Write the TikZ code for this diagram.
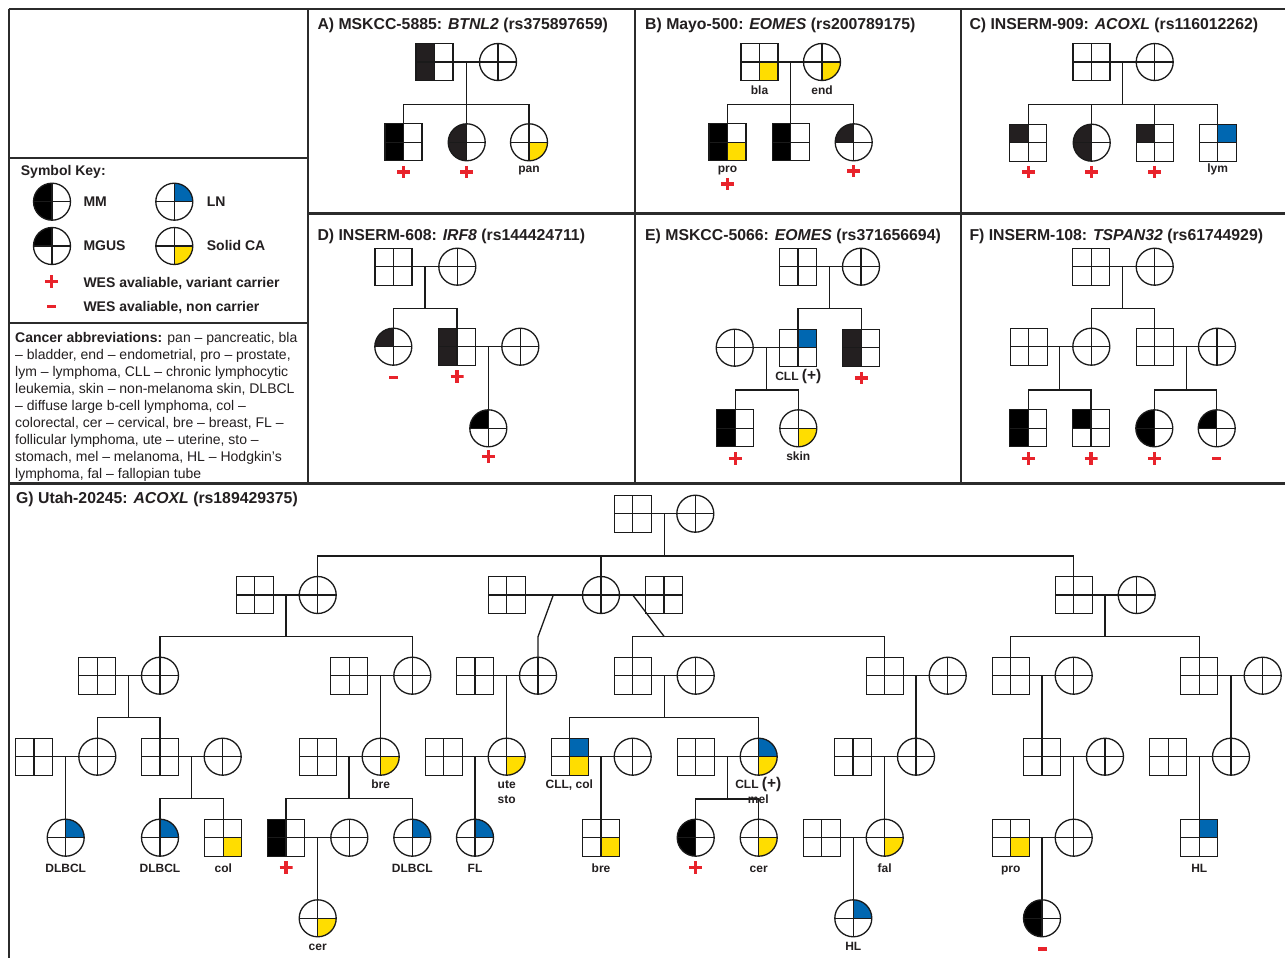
\documentclass[tikz,border=0pt]{standalone}
\usepackage{fontspec}
\setmainfont{Liberation Sans}
\definecolor{blk}{HTML}{000000}
\definecolor{dk}{HTML}{231F20}
\definecolor{blu}{HTML}{0067B1}
\definecolor{yel}{HTML}{FFDD00}
\definecolor{wesred}{HTML}{E8232B}
\definecolor{lc}{HTML}{1A1A1A}
\definecolor{tc}{HTML}{231F20}
\definecolor{fr}{HTML}{2B2B2B}
\newcommand{\quads}[4]{%
 \fill[#1] (path picture bounding box.center) rectangle (path picture bounding box.north west);
 \fill[#2] (path picture bounding box.center) rectangle (path picture bounding box.north east);
 \fill[#3] (path picture bounding box.center) rectangle (path picture bounding box.south west);
 \fill[#4] (path picture bounding box.center) rectangle (path picture bounding box.south east);
 \draw[lc,line width=1.3pt] (path picture bounding box.north) -- (path picture bounding box.south)
   (path picture bounding box.west) -- (path picture bounding box.east);}
\tikzset{
  ln/.style={draw=lc, line width=1.3pt},
  frame/.style={draw=fr, line width=2.2pt},
  sym/.style={draw=lc, line width=1.3pt, inner sep=0pt, outer sep=0pt, minimum size=37pt},
  msym/.style n args={4}{sym, rectangle, path picture={\quads{#1}{#2}{#3}{#4}}},
  fsym/.style n args={4}{sym, circle, path picture={\quads{#1}{#2}{#3}{#4}}},
  mb/.style={msym={white}{white}{white}{white}},
  fb/.style={fsym={white}{white}{white}{white}},
  lbl/.style={font=\fontsize{12}{14}\selectfont\bfseries, text=tc, inner sep=0pt, anchor=base},
  ttl/.style={font=\fontsize{15.8}{18}\selectfont\bfseries, text=tc, inner sep=0pt, anchor=base west},
  keyt/.style={font=\fontsize{14}{17}\selectfont\bfseries, text=tc, inner sep=0pt, anchor=base west},
  abbr/.style={font=\fontsize{14}{17}\selectfont, text=tc, inner sep=0pt, anchor=base west},
  plusm/.style={inner sep=0pt, outer sep=0pt, minimum width=13pt, minimum height=12.5pt,
    path picture={\draw[wesred,line width=3.3pt] (path picture bounding box.west) -- (path picture bounding box.east)
      (path picture bounding box.north) -- (path picture bounding box.south);}},
  minusm/.style={fill=wesred, inner sep=0pt, outer sep=0pt, minimum width=9pt, minimum height=3.3pt},
}
\newcommand{\cllp}{CLL {\fontsize{15.5}{16}\selectfont (+)}}
\begin{document}
\begin{tikzpicture}[x=1pt,y=-1pt]
\useasboundingbox (0,0) rectangle (1285,958);
\fill[white] (0,0) rectangle (1285,958);
% ---------------- frames
\draw[frame] (8.7,9.3) -- (1285,9.3);
\draw[frame] (8.7,9.3) -- (8.7,958);
\draw[frame] (308.3,9.3) -- (308.3,483.5);
\draw[frame] (635,9.3) -- (635,483.5);
\draw[frame] (961,9.3) -- (961,483.5);
\draw[frame] (8.7,158) -- (308.3,158);
\draw[frame] (8.7,322.7) -- (308.3,322.7);
\draw[frame] (308.3,213.5) -- (1285,213.5);
\draw[frame] (8.7,483.5) -- (1285,483.5);
% ---------------- legend
\node[keyt] (kt) at (20.7,175.7) {Symbol Key:};
\node[fsym={blk}{white}{blk}{white}] (kmm) at (52,201.7) {};
\node[fsym={white}{blu}{white}{white}] (kln) at (174.3,201.7) {};
\node[fsym={blk}{white}{white}{white}] (kmg) at (52,246) {};
\node[fsym={white}{white}{white}{yel}] (kca) at (174.3,246) {};
\node[keyt] (kmmt) at (83.3,206) {MM};
\node[keyt] (klnt) at (206.7,206) {LN};
\node[keyt] (kmgt) at (83.3,250.7) {MGUS};
\node[keyt] (kcat) at (206.7,250.7) {Solid CA};
\node[plusm] (kp) at (51.7,281.7) {};
\node[minusm] (km) at (51.7,306.7) {};
\node[keyt] (kpt) at (83.3,287.3) {WES avaliable, variant carrier};
\node[keyt] (kmt) at (83.3,311.7) {WES avaliable, non carrier};
% ---------------- abbreviations
\node[abbr] (ab1) at (15,342.7) {\textbf{Cancer abbreviations:} pan – pancreatic, bla};
\node[abbr] (ab2) at (15,359.7) {– bladder, end – endometrial, pro – prostate,};
\node[abbr] (ab3) at (15,376.6) {lym – lymphoma, CLL – chronic lymphocytic};
\node[abbr] (ab4) at (15,393.6) {leukemia, skin – non-melanoma skin, DLBCL};
\node[abbr] (ab5) at (15,410.5) {– diffuse large b-cell lymphoma, col –};
\node[abbr] (ab6) at (15,427.5) {colorectal, cer – cervical, bre – breast, FL –};
\node[abbr] (ab7) at (15,444.4) {follicular lymphoma, ute – uterine, sto –};
\node[abbr] (ab8) at (15,461.4) {stomach, mel – melanoma, HL – Hodgkin’s};
\node[abbr] (ab9) at (15,478.3) {lymphoma, fal – fallopian tube};
% ---------------- titles
\node[ttl] (ta) at (317.3,30) {A) MSKCC-5885: \textit{BTNL2} (rs375897659)};
\node[ttl] (tb) at (645,30) {B) Mayo-500: \textit{EOMES} (rs200789175)};
\node[ttl] (tc) at (969.3,30) {C) INSERM-909: \textit{ACOXL} (rs116012262)};
\node[ttl] (td) at (317.3,240) {D) INSERM-608: \textit{IRF8} (rs144424711)};
\node[ttl] (te) at (645,240) {E) MSKCC-5066: \textit{EOMES} (rs371656694)};
\node[ttl] (tf) at (969.3,240) {F) INSERM-108: \textit{TSPAN32} (rs61744929)};
\node[ttl] (tg) at (16,503.3) {G) Utah-20245: \textit{ACOXL} (rs189429375)};
% ---------------- panel A
\node[msym={dk}{white}{dk}{white}] (a1) at (434.5,62) {};
\node[fb] (a2) at (498,62) {};
\coordinate (a12) at (466.7,62);
\coordinate (a12s) at (466.7,104.3);
\node[msym={blk}{white}{blk}{white}] (a3) at (403.5,142.3) {};
\node[fsym={dk}{white}{dk}{white}] (a4) at (466.7,142.3) {};
\node[fsym={white}{white}{white}{yel}] (a5) at (529,142.3) {};
\draw[ln] (a1.east) -- (a2.west);
\draw[ln] (a12) -- (a12s);
\draw[ln] (a3.north) |- (a12s) -| (a5.north);
\draw[ln] (a12s) -- (a4.north);
\node[lbl] (a5l) at (529,172) {pan};
\node[plusm] (a3p) at (403.5,172) {};
\node[plusm] (a4p) at (466.7,172) {};
% ---------------- panel B
\node[msym={white}{white}{white}{yel}] (b1) at (759.5,62) {};
\node[fsym={white}{white}{white}{yel}] (b2) at (822,62) {};
\coordinate (b12) at (790.7,62);
\coordinate (b12s) at (790.7,104.3);
\node[msym={blk}{white}{blk}{yel}] (b3) at (727.5,142.3) {};
\node[msym={blk}{white}{blk}{white}] (b4) at (790.7,142.3) {};
\node[fsym={dk}{white}{white}{white}] (b5) at (853.7,142.3) {};
\draw[ln] (b1.east) -- (b2.west);
\draw[ln] (b12) -- (b12s);
\draw[ln] (b3.north) |- (b12s) -| (b5.north);
\draw[ln] (b12s) -- (b4.north);
\node[lbl] (b1l) at (759.5,94) {bla};
\node[lbl] (b2l) at (822,94) {end};
\node[lbl] (b3l) at (727.5,172.7) {pro};
\node[plusm] (b3p) at (727.5,184) {};
\node[plusm] (b5p) at (853.7,171) {};
% ---------------- panel C
\node[mb] (c1) at (1091.5,62) {};
\node[fb] (c2) at (1154.7,62) {};
\coordinate (c12) at (1122.7,62);
\coordinate (c12s) at (1122.7,104.3);
\node[msym={dk}{white}{white}{white}] (c3) at (1028.3,142.7) {};
\node[fsym={dk}{white}{dk}{white}] (c4) at (1091.7,142.7) {};
\node[msym={dk}{white}{white}{white}] (c5) at (1154.7,142.7) {};
\node[msym={white}{blu}{white}{white}] (c6) at (1217.7,142.7) {};
\draw[ln] (c1.east) -- (c2.west);
\draw[ln] (c12) -- (c12s);
\draw[ln] (c3.north) |- (c12s) -| (c6.north);
\draw[ln] (c4.north) -- (c4.north |- c12s);
\draw[ln] (c5.north) -- (c5.north |- c12s);
\node[lbl] (c6l) at (1217.7,172.3) {lym};
\node[plusm] (c3p) at (1028.3,172) {};
\node[plusm] (c4p) at (1091.7,172) {};
\node[plusm] (c5p) at (1154.7,172) {};
% ---------------- panel D
\node[mb] (d1) at (393.5,266.7) {};
\node[fb] (d2) at (457.3,266.7) {};
\coordinate (d12) at (425,266.7);
\coordinate (d12s) at (425,308.3);
\node[fsym={dk}{white}{white}{white}] (d3) at (393.3,346.7) {};
\node[msym={dk}{white}{dk}{white}] (d4) at (457,346.7) {};
\node[fb] (d5) at (520.3,346.7) {};
\coordinate (d45) at (488.3,346.7);
\node[fsym={blk}{white}{white}{white}] (d6) at (488.3,428.3) {};
\draw[ln] (d1.east) -- (d2.west);
\draw[ln] (d12) -- (d12s);
\draw[ln] (d3.north) |- (d12s) -| (d4.north);
\draw[ln] (d4.east) -- (d5.west);
\draw[ln] (d45) -- (d6.north);
\node[minusm] (d3m) at (393.3,377.7) {};
\node[plusm] (d4p) at (457,376.7) {};
\node[plusm] (d6p) at (488.3,456.7) {};
% ---------------- panel E
\node[mb] (e1) at (798,266.7) {};
\node[fb] (e2) at (861,266.7) {};
\coordinate (e12) at (829.3,266.7);
\coordinate (e12s) at (829.3,308.3);
\node[fb] (e3) at (734.7,347.7) {};
\node[msym={white}{blu}{white}{white}] (e4) at (798,347.7) {};
\node[msym={dk}{white}{dk}{white}] (e5) at (861.3,347.7) {};
\coordinate (e34) at (766.7,347.7);
\coordinate (e34s) at (766.7,390);
\node[msym={blk}{white}{blk}{white}] (e6) at (735.3,428.3) {};
\node[fsym={white}{white}{white}{yel}] (e7) at (798.3,428.3) {};
\draw[ln] (e1.east) -- (e2.west);
\draw[ln] (e12) -- (e12s);
\draw[ln] (e4.north) |- (e12s) -| (e5.north);
\draw[ln] (e3.east) -- (e4.west);
\draw[ln] (e34) -- (e34s);
\draw[ln] (e6.north) |- (e34s) -| (e7.north);
\node[lbl] (e4l) at (798.3,380.7) {\cllp};
\node[lbl] (e7l) at (798.3,460.7) {skin};
\node[plusm] (e5p) at (861.3,378) {};
\node[plusm] (e6p) at (735.3,458.3) {};
% ---------------- panel F
\node[mb] (f1) at (1091.3,266.7) {};
\node[fb] (f2) at (1154.7,266.7) {};
\coordinate (f12) at (1122.7,266.7);
\coordinate (f12s) at (1122.7,308.3);
\node[mb] (f3) at (1028.7,346.7) {};
\node[fb] (f4) at (1091.3,346.7) {};
\node[mb] (f5) at (1154.7,346.7) {};
\node[fb] (f6) at (1217,346.7) {};
\coordinate (f34) at (1059.3,346.7);
\coordinate (f34s) at (1059.3,390);
\coordinate (f56) at (1186.7,346.7);
\coordinate (f56s) at (1186.7,390);
\node[msym={blk}{white}{blk}{white}] (f7) at (1028.3,428.3) {};
\node[msym={blk}{white}{white}{white}] (f8) at (1091,428.3) {};
\node[fsym={blk}{white}{blk}{white}] (f9) at (1154.3,428.3) {};
\node[fsym={blk}{white}{white}{white}] (f10) at (1216.7,428.3) {};
\draw[ln] (f1.east) -- (f2.west);
\draw[ln] (f12) -- (f12s);
\draw[ln] (f4.north) |- (f12s) -| (f5.north);
\draw[ln] (f3.east) -- (f4.west);
\draw[ln] (f5.east) -- (f6.west);
\draw[ln] (f34) -- (f34s);
\draw[ln] (f56) -- (f56s);
\draw[ln] (f7.north) |- (f34s) -| (f8.north);
\draw[ln] (f9.north) |- (f56s) -| (f10.north);
\node[plusm] (f7p) at (1028.3,458.3) {};
\node[plusm] (f8p) at (1091,458.3) {};
\node[plusm] (f9p) at (1154.3,458.3) {};
\node[minusm] (f10m) at (1216.7,458.3) {};
% ---------------- panel G : generation 1
\node[mb] (g1a) at (632.7,513.7) {};
\node[fb] (g1b) at (695.3,513.7) {};
\coordinate (g1c) at (664.3,513.7);
\coordinate (g1s) at (664.3,556);
% generation 2
\node[mb] (g2a) at (254.7,595) {};
\node[fb] (g2b) at (317.7,595) {};
\node[mb] (g2c) at (506.7,595) {};
\node[fb] (g2d) at (601,595) {};
\node[mb] (g2e) at (664,595) {};
\node[mb] (g2f) at (1073.7,595) {};
\node[fb] (g2g) at (1136.7,595) {};
\draw[ln] (g1a.east) -- (g1b.west);
\draw[ln] (g1c) -- (g1s);
\draw[ln] (g2b.north) |- (g1s) -| (g2f.north);
\draw[ln] (g2d.north) -- (g2d.north |- g1s);
\draw[ln] (g2a.east) -- (g2b.west);
\draw[ln] (g2c.east) -- (g2d.west);
\draw[ln] (g2d.east) -- (g2e.west);
\draw[ln] (g2f.east) -- (g2g.west);
% generation 3
\node[mb] (g3a) at (97.3,675.7) {};
\node[fb] (g3b) at (160,675.7) {};
\node[mb] (g3c) at (349.3,675.7) {};
\node[fb] (g3d) at (412.3,675.7) {};
\node[mb] (g3e) at (475,675.7) {};
\node[fb] (g3f) at (538,675.7) {};
\node[mb] (g3g) at (632.7,675.7) {};
\node[fb] (g3h) at (695.7,675.7) {};
\node[mb] (g3i) at (884.7,675.7) {};
\node[fb] (g3j) at (947.7,675.7) {};
\node[mb] (g3k) at (1010.7,675.7) {};
\node[fb] (g3l) at (1073.7,675.7) {};
\node[mb] (g3m) at (1199.3,675.7) {};
\node[fb] (g3n) at (1262.7,675.7) {};
\coordinate (g2abc) at (286,595);
\coordinate (g2abs) at (286,636.7);
\draw[ln] (g2abc) -- (g2abs);
\draw[ln] (g3b.north) |- (g2abs) -| (g3d.north);
\coordinate (g2cdc) at (553.3,595);
\coordinate (g2cds) at (538,636.7);
\draw[ln] (g2cdc) -- (g2cds) -- (g3f.north);
\coordinate (g2dec) at (632.7,595);
\coordinate (g2des) at (664.3,636.7);
\draw[ln] (g2dec) -- (g2des);
\draw[ln] (g3g.north) |- (g2des) -| (g3i.north);
\coordinate (g2fgc) at (1105,595);
\coordinate (g2fgs) at (1105,636.7);
\draw[ln] (g2fgc) -- (g2fgs);
\draw[ln] (g3k.north) |- (g2fgs) -| (g3m.north);
\foreach \p/\q in {g3a/g3b,g3c/g3d,g3e/g3f,g3g/g3h,g3i/g3j,g3k/g3l,g3m/g3n}
  \draw[ln] (\p.east) -- (\q.west);
% generation 4
\node[mb] (g4a) at (34,756.7) {};
\node[fb] (g4b) at (97.3,756.7) {};
\node[mb] (g4c) at (160,756.7) {};
\node[fb] (g4d) at (222.7,756.7) {};
\node[mb] (g4e) at (317.7,756.7) {};
\node[fsym={white}{white}{white}{yel}] (g4f) at (380.7,756.7) {};
\node[mb] (g4g) at (443.7,756.7) {};
\node[fsym={white}{white}{white}{yel}] (g4h) at (506.7,756.7) {};
\node[msym={white}{blu}{white}{yel}] (g4i) at (569.7,756.7) {};
\node[fb] (g4j) at (632.7,756.7) {};
\node[mb] (g4k) at (695.7,756.7) {};
\node[fsym={white}{blu}{white}{yel}] (g4l) at (758.7,756.7) {};
\node[mb] (g4m) at (853,756.7) {};
\node[fb] (g4n) at (916,756.7) {};
\node[mb] (g4o) at (1042,756.7) {};
\node[fb] (g4p) at (1105,756.7) {};
\node[mb] (g4q) at (1168.3,756.7) {};
\node[fb] (g4r) at (1231,756.7) {};
\coordinate (g3abc) at (128.3,675.7);
\coordinate (g3abs) at (128.3,717.7);
\draw[ln] (g3abc) -- (g3abs);
\draw[ln] (g4b.north) |- (g3abs) -| (g4c.north);
\coordinate (g3cdc) at (380.7,675.7);
\draw[ln] (g3cdc) -- (g4f.north);
\coordinate (g3efc) at (506.7,675.7);
\draw[ln] (g3efc) -- (g4h.north);
\coordinate (g3ghc) at (664.3,675.7);
\coordinate (g3ghs) at (664.3,717.7);
\draw[ln] (g3ghc) -- (g3ghs);
\draw[ln] (g4i.north) |- (g3ghs) -| (g4l.north);
\coordinate (g3ijc) at (916,675.7);
\draw[ln] (g3ijc) -- (g4n.north);
\coordinate (g3klc) at (1042,675.7);
\draw[ln] (g3klc) -- (g4o.north);
\coordinate (g3mnc) at (1231,675.7);
\draw[ln] (g3mnc) -- (g4r.north);
\foreach \p/\q in {g4a/g4b,g4c/g4d,g4e/g4f,g4g/g4h,g4i/g4j,g4k/g4l,g4m/g4n,g4o/g4p,g4q/g4r}
  \draw[ln] (\p.east) -- (\q.west);
\node[lbl] (g4fl) at (380.7,788.3) {bre};
\node[lbl] (g4hl) at (506.7,788.3) {ute};
\node[lbl] (g4hl2) at (506.7,803.3) {sto};
\node[lbl] (g4il) at (569.3,788.3) {CLL, col};
\node[lbl] (g4ll) at (758.3,788.3) {\cllp};
% generation 5
\node[fsym={white}{blu}{white}{white}] (g5a) at (65.7,837.7) {};
\node[fsym={white}{blu}{white}{white}] (g5b) at (160,837.7) {};
\node[msym={white}{white}{white}{yel}] (g5c) at (223.3,837.7) {};
\node[msym={blk}{white}{blk}{white}] (g5d) at (286,837.7) {};
\node[fb] (g5e) at (349.3,837.7) {};
\node[fsym={white}{blu}{white}{white}] (g5f) at (412.3,837.7) {};
\node[fsym={white}{blu}{white}{white}] (g5g) at (475,837.7) {};
\node[msym={white}{white}{white}{yel}] (g5h) at (601,837.7) {};
\node[fsym={blk}{white}{blk}{white}] (g5i) at (695.7,837.7) {};
\node[fsym={white}{white}{white}{yel}] (g5j) at (758.7,837.7) {};
\node[mb] (g5k) at (821.7,837.7) {};
\node[fsym={white}{white}{white}{yel}] (g5l) at (884.7,837.7) {};
\node[msym={white}{white}{white}{yel}] (g5m) at (1010.7,837.7) {};
\node[fb] (g5n) at (1073.7,837.7) {};
\node[msym={white}{blu}{white}{white}] (g5o) at (1199.3,837.7) {};
\coordinate (g4abc) at (65.7,756.7);
\draw[ln] (g4abc) -- (g5a.north);
\coordinate (g4cdc) at (191.7,756.7);
\coordinate (g4cds) at (191.7,798.3);
\draw[ln] (g4cdc) -- (g4cds);
\draw[ln] (g5b.north) |- (g4cds) -| (g5c.north);
\coordinate (g4efc) at (349,756.7);
\coordinate (g4efs) at (349,798.3);
\draw[ln] (g4efc) -- (g4efs);
\draw[ln] (g5d.north) |- (g4efs) -| (g5f.north);
\coordinate (g4ghc) at (475,756.7);
\draw[ln] (g4ghc) -- (g5g.north);
\coordinate (g4ijc) at (601,756.7);
\draw[ln] (g4ijc) -- (g5h.north);
\coordinate (g4klc) at (727.3,756.7);
\coordinate (g4kls) at (727.3,799);
\draw[ln] (g4klc) -- (g4kls);
\draw[ln] (g5i.north) |- (g4kls) -| (g5j.north);
\coordinate (g4mnc) at (884.7,756.7);
\draw[ln] (g4mnc) -- (g5l.north);
\coordinate (g4opc) at (1073.7,756.7);
\draw[ln] (g4opc) -- (g5n.north);
\coordinate (g4qrc) at (1199.3,756.7);
\draw[ln] (g4qrc) -- (g5o.north);
\foreach \p/\q in {g5d/g5e,g5k/g5l,g5m/g5n}
  \draw[ln] (\p.east) -- (\q.west);
\node[lbl] (g4lm) at (758.3,803.3) {mel};
\node[lbl] (g5al) at (65.7,872) {DLBCL};
\node[lbl] (g5bl) at (160,872) {DLBCL};
\node[lbl] (g5cl) at (223.3,872) {col};
\node[lbl] (g5fl) at (412.3,872) {DLBCL};
\node[lbl] (g5gl) at (475,872) {FL};
\node[lbl] (g5hl) at (601,872) {bre};
\node[lbl] (g5jl) at (758.7,872) {cer};
\node[lbl] (g5ll) at (884.7,872) {fal};
\node[lbl] (g5ml) at (1010.7,872) {pro};
\node[lbl] (g5ol) at (1199.3,872) {HL};
\node[plusm] (g5dp) at (286,867.3) {};
\node[plusm] (g5ip) at (695.7,867.3) {};
% generation 6
\node[fsym={white}{white}{white}{yel}] (g6a) at (317.7,918.3) {};
\node[fsym={white}{blu}{white}{white}] (g6b) at (853.3,918.3) {};
\node[fsym={blk}{white}{blk}{white}] (g6c) at (1042,918.3) {};
\coordinate (g5dec) at (317.7,837.7);
\draw[ln] (g5dec) -- (g6a.north);
\coordinate (g5klc) at (853.3,837.7);
\draw[ln] (g5klc) -- (g6b.north);
\coordinate (g5mnc) at (1042,837.7);
\draw[ln] (g5mnc) -- (g6c.north);
\node[lbl] (g6al) at (317.7,950.7) {cer};
\node[lbl] (g6bl) at (853.3,950.7) {HL};
\node[minusm] (g6cm) at (1042,949) {};
\end{tikzpicture}
\end{document}
